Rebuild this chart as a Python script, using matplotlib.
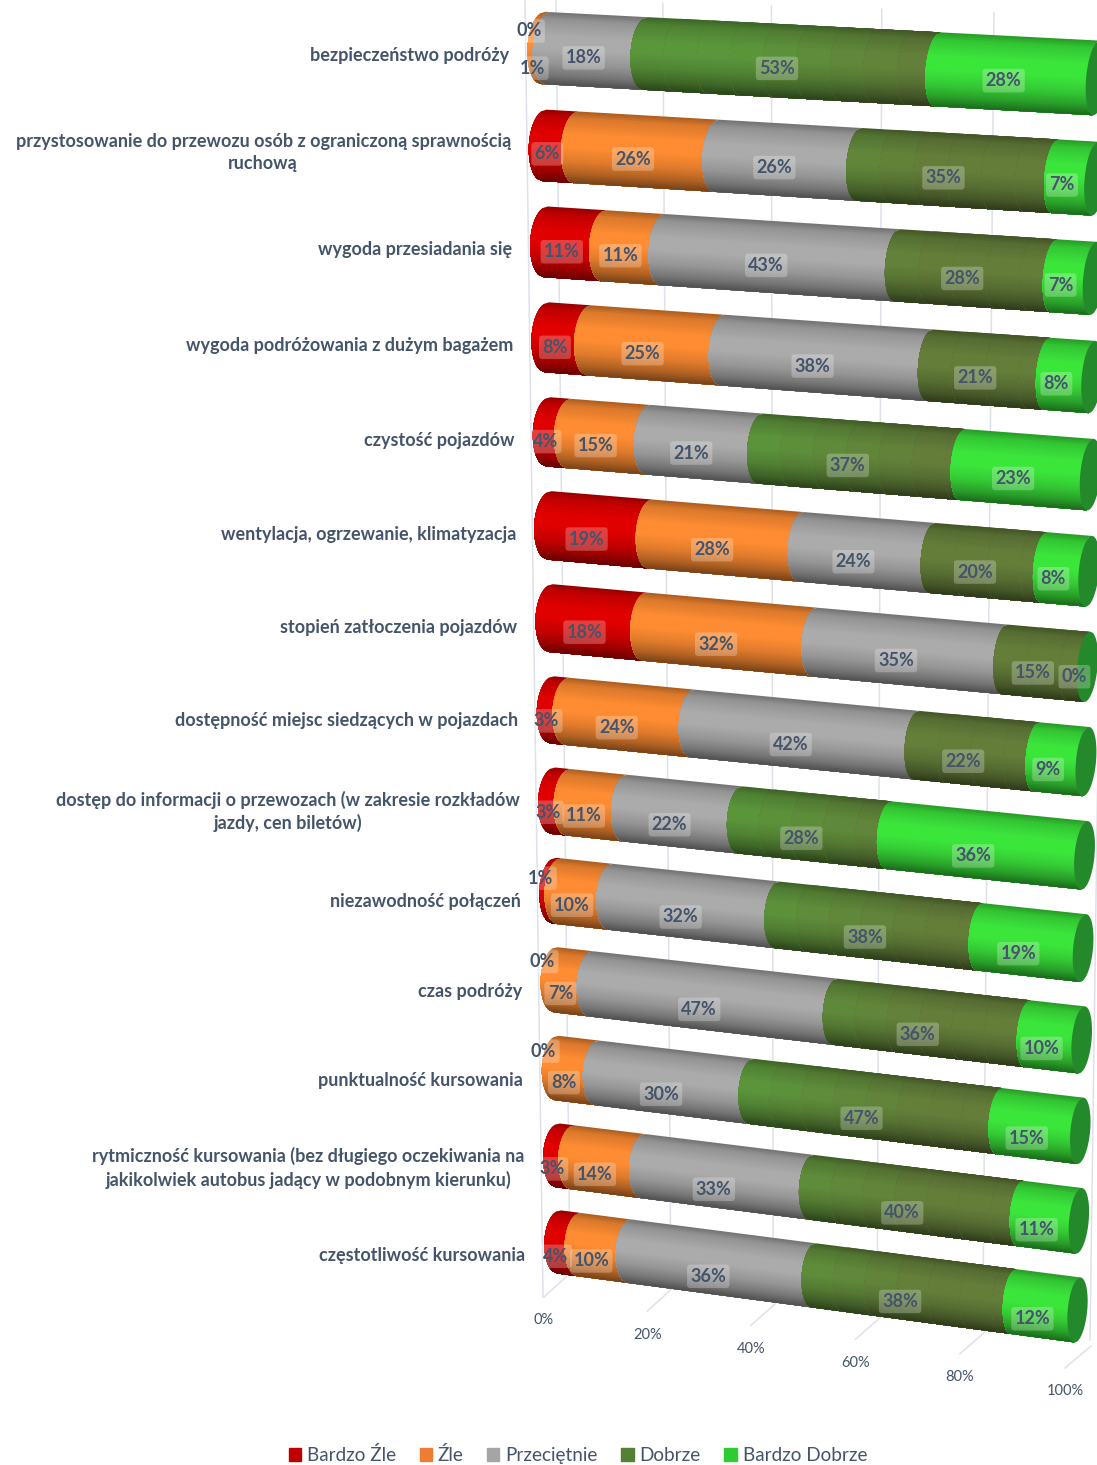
import numpy as np
import matplotlib
matplotlib.use('Agg')
import matplotlib.pyplot as plt
from matplotlib.collections import PolyCollection
from matplotlib.colors import to_rgb
from matplotlib.patches import Patch
from matplotlib.transforms import Transform

# survey answers, one row per question, top bar first
categories = [
    'bezpieczeństwo podróży',
    'przystosowanie do przewozu osób z ograniczoną sprawnością\nruchową',
    'wygoda przesiadania się',
    'wygoda podróżowania z dużym bagażem',
    'czystość pojazdów',
    'wentylacja, ogrzewanie, klimatyzacja',
    'stopień zatłoczenia pojazdów',
    'dostępność miejsc siedzących w pojazdach',
    'dostęp do informacji o przewozach (w zakresie rozkładów\njazdy, cen biletów)',
    'niezawodność połączeń',
    'czas podróży',
    'punktualność kursowania',
    'rytmiczność kursowania (bez długiego oczekiwania na\njakikolwiek autobus jadący w podobnym kierunku)',
    'częstotliwość kursowania',
]
series_names = ['Bardzo Źle', 'Źle', 'Przeciętnie', 'Dobrze', 'Bardzo Dobrze']
bardzo_zle = [0, 6, 11, 8, 4, 19, 18, 3, 3, 1, 0, 0, 3, 4]
zle = [1, 26, 11, 25, 15, 28, 32, 24, 11, 10, 7, 8, 14, 10]
przecietnie = [18, 26, 43, 38, 21, 24, 35, 42, 22, 32, 47, 30, 33, 36]
dobrze = [53, 35, 28, 21, 37, 20, 15, 22, 28, 38, 36, 47, 40, 38]
bardzo_dobrze = [28, 7, 7, 8, 23, 8, 0, 9, 36, 19, 10, 15, 11, 12]
x_ticks = [0, 20, 40, 60, 80, 100]

bright = ['#E00000', '#FF8C32', '#ABABAB', '#5A963A', '#3BE63B']
olive = '#647E3A'
legend_colors = ['#C00000', '#ED7D31', '#A5A5A5', '#548235', '#2ECC32']
text_color = '#44546A'
grid_color = '#DDE1EA'
cap_color = '#23892A'

plt.rcParams['font.family'] = ['Lato', 'DejaVu Sans']


class Perspective(Transform):
    ''' maps a rectangle of (value, row) onto four picture points '''
    input_dims = 2
    output_dims = 2
    has_inverse = False

    def __init__(self, xr, yr, tl, tr, bl, br):
        super().__init__()
        src = [(xr[0], yr[0]), (xr[1], yr[0]), (xr[0], yr[1]), (xr[1], yr[1])]
        dst = [tl, tr, bl, br]
        a = []
        b = []
        for (x, y), (u, v) in zip(src, dst):
            a.append([x, y, 1, 0, 0, 0, -u * x, -u * y])
            a.append([0, 0, 0, x, y, 1, -v * x, -v * y])
            b += [u, v]
        self.h = np.append(np.linalg.solve(np.array(a, float), np.array(b, float)), 1).reshape(3, 3)

    def transform_non_affine(self, values):
        values = np.asarray(values, float)
        p = np.column_stack([values, np.ones(len(values))]) @ self.h.T
        return p[:, :2] / p[:, 2:]


fig = plt.figure(figsize=(10.97, 14.65), dpi=100)
ax = fig.add_axes([0, 0, 1, 1])
ax.set_xlim(0, 1097)
ax.set_ylim(1465, 0)
ax.axis('off')

n = len(categories)
bars = Perspective((0, 100), (0, n - 1), (543, 48), (1096.5, 78), (559, 1242), (1077.5, 1310))
wall = Perspective((0, 100), (0, 1), (556, 0), (1108, 16), (570, 1275), (1090, 1340))
floor = Perspective((0, 100), (0, 1), (568, 1275), (1091, 1346), (544, 1297), (1065, 1368))

# walls and floor behind the bars
for t in x_ticks:
    ax.plot([t, t], [0, 1], color=grid_color, lw=1.1, transform=wall + ax.transData, zorder=1)
    ax.plot([t, t], [0, 1], color=grid_color, lw=1.1, transform=floor + ax.transData, zorder=1)
    x, y = floor.transform(np.array([[t, 1.0]]))[0]
    ax.text(x, y + 23.5, '%d%%' % t, color=text_color, fontsize=10.5, ha='center', va='center', zorder=5)
ax.plot([525, 543], [0, 1297], color=grid_color, lw=1.1, zorder=1)

half = 0.37
rows = np.array([bardzo_zle, zle, przecietnie, dobrze, bardzo_dobrze], float).T
cum = np.cumsum(rows, axis=1)
cum = np.column_stack([np.zeros(n), cum / cum[:, -1:] * 100])

s = np.linspace(-1, 1, 37)
shade = np.interp((s[:-1] + s[1:]) / 2, [-1, -0.8, -0.35, 0, 0.4, 0.75, 1], [0.66, 0.86, 1, 1, 0.88, 0.68, 0.46])


def bulge(v, s_):
    # a slice through the cylinder is seen as a half ellipse, slightly leaning
    rx = 2.9 - 0.011 * v
    return v - rx * np.sqrt(1 - s_ ** 2) - 0.5 * s_


def segment_color(j, v):
    if j != 3:
        return np.array(to_rgb(bright[j]))
    k = np.clip((v - 35) / 35, 0, 1)
    return (1 - k) * np.array(to_rgb(bright[3])) + k * np.array(to_rgb(olive))


trans = bars + ax.transData
for i in range(n):
    for j in range(5):
        v0, v1 = cum[i, j], cum[i, j + 1]
        if v1 <= v0:
            continue
        # painted one over the other so no seams show between the strips
        steps = np.arange(v0, v1, 6.0) if j == 3 else [v0]
        for vs in steps:
            verts = []
            colors = []
            for k in range(len(s) - 1):
                ss = s[k:]
                left = np.column_stack([bulge(vs, ss), i + half * ss])
                right = np.column_stack([bulge(v1, ss), i + half * ss])[::-1]
                verts.append(np.vstack([left, right]))
                colors.append(shade[k] * segment_color(j, vs))
            ax.add_collection(PolyCollection(verts, facecolors=colors, edgecolors='none', transform=trans,
                                             zorder=2 + 0.01 * i), autolim=False)
    t = np.linspace(0, 2 * np.pi, 90)
    rx = 2.9 - 0.011 * 100
    cx = 100 + rx * np.cos(t) - 0.5 * np.sin(t)
    cy = i + half * np.sin(t)
    ax.fill(cx, cy, color=cap_color, lw=0, transform=trans, zorder=2.005 + 0.01 * i)

    # question label left of the bar
    x, y = bars.transform(np.array([[0.0, float(i)]]))[0]
    ax.text(x - 33.5, y + 7 + 6 * i / 13, categories[i], color=text_color, fontsize=13, fontweight='bold',
            ha='right', va='center', multialignment='center', linespacing=1.37, zorder=5)

# labels that Excel pushed aside because the slice was too thin
shift = {(0, 0): (-1, -24), (0, 1): (0, 13), (9, 0): (-3, -24), (10, 0): (0, -30), (11, 0): (0, -29)}

for i in range(n):
    for j in range(5):
        mid = (cum[i, j] + cum[i, j + 1]) / 2
        x, y = bars.transform(np.array([[mid, float(i)]]))[0]
        dx, dy = shift.get((i, j), (0, 0))
        ax.text(x - 13 + dx, y + 7 + 6 * i / 13 + dy, '%d%%' % rows[i, j], color=text_color, fontsize=13,
                fontweight='bold', ha='center', va='center', zorder=6,
                bbox=dict(boxstyle='round,pad=0.18', fc='white', ec='none', alpha=0.25))

handles = [Patch(color=c, label=name) for c, name in zip(legend_colors, series_names)]
ax.legend(handles=handles, ncol=5, loc='center', bbox_to_anchor=(578, 1455), bbox_transform=ax.transData,
          frameon=False, fontsize=13.6, labelcolor=text_color, handlelength=0.64, handleheight=0.64,
          handletextpad=0.32, columnspacing=1.25, borderpad=0, borderaxespad=0)

ax.set_xlim(0, 1097)
ax.set_ylim(1465, 0)
fig.savefig('out.png', dpi=100)
